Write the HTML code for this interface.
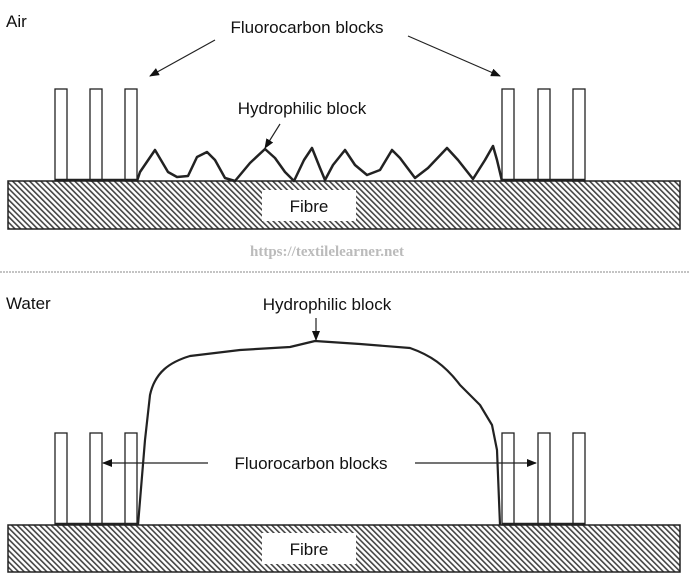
<!DOCTYPE html>
<html><head><style>body{margin:0;background:#fff}svg{display:block}</style></head><body>
<svg width="690" height="580" viewBox="0 0 690 580" xmlns="http://www.w3.org/2000/svg" font-family="Liberation Sans, sans-serif">
<defs>
<pattern id="h" width="4" height="4" patternUnits="userSpaceOnUse" patternTransform="rotate(-45)">
<rect width="4" height="4" fill="#fff"/><rect width="1.6" height="4" fill="#444"/></pattern>
<marker id="a" markerWidth="10" markerHeight="8" refX="9" refY="4" orient="auto" markerUnits="userSpaceOnUse"><path d="M0,0L10,4L0,8z" fill="#111"/></marker>
</defs>
<g stroke="#222" fill="none">
<rect x="8" y="181" width="672" height="48" fill="url(#h)" stroke="#222" stroke-width="1.5"/>
<rect x="262" y="190" width="94" height="31" fill="#fff" stroke="none"/>
<g fill="#fff" stroke-width="1.3">
<rect x="55" y="89" width="12" height="92"/><rect x="90" y="89" width="12" height="92"/><rect x="125" y="89" width="12" height="92"/>
<rect x="502" y="89" width="12" height="92"/><rect x="538" y="89" width="12" height="92"/><rect x="573" y="89" width="12" height="92"/>
</g>
<line x1="55" y1="180" x2="137" y2="180" stroke-width="2.5"/>
<line x1="502" y1="180" x2="585" y2="180" stroke-width="2.5"/>
<path d="M137,181 L140,172 L155,150 L168,172 L177,177 L188,176 L197,157 L207,152 L215,160 L225,178 L235,181 L250,163 L265,149 L275,158 L285,172 L294,181 L304,160 L312,148 L320,168 L325,180 L333,165 L345,150 L355,165 L367,175 L380,170 L392,150 L400,158 L415,178 L428,168 L447,148 L458,160 L473,179 L485,160 L493,146 L497,160 L502,181" stroke-width="2.5" stroke-linejoin="round"/>
<line x1="215" y1="40" x2="150" y2="76" stroke-width="1.2" marker-end="url(#a)"/>
<line x1="408" y1="36" x2="500" y2="76" stroke-width="1.2" marker-end="url(#a)"/>
<line x1="280" y1="124" x2="265" y2="148" stroke-width="1.2" marker-end="url(#a)"/>
<line x1="0" y1="272" x2="690" y2="272" stroke="#888" stroke-dasharray="2,1"/>
<rect x="8" y="525" width="672" height="47" fill="url(#h)" stroke="#222" stroke-width="1.5"/>
<rect x="262" y="533" width="94" height="31" fill="#fff" stroke="none"/>
<g fill="#fff" stroke-width="1.3">
<rect x="55" y="433" width="12" height="92"/><rect x="90" y="433" width="12" height="92"/><rect x="125" y="433" width="12" height="92"/>
<rect x="502" y="433" width="12" height="92"/><rect x="538" y="433" width="12" height="92"/><rect x="573" y="433" width="12" height="92"/>
</g>
<line x1="55" y1="524" x2="137" y2="524" stroke-width="2.5"/>
<line x1="502" y1="524" x2="585" y2="524" stroke-width="2.5"/>
<path d="M138,525 L145,440 L150,395 C155,372 170,362 190,356 L240,350 L290,347 L315,341 L360,344 L410,348 C430,355 445,365 460,385 L480,405 L492,425 L497,450 L500,525" stroke-width="2.2" stroke-linejoin="round"/>
<line x1="316" y1="318" x2="316" y2="340" stroke-width="1.2" marker-end="url(#a)"/>
<line x1="208" y1="463" x2="103" y2="463" stroke-width="1.2" marker-end="url(#a)"/>
<line x1="415" y1="463" x2="536" y2="463" stroke-width="1.2" marker-end="url(#a)"/>
</g>
<g fill="#111" font-size="17">
<text x="6" y="27">Air</text>
<text x="307" y="33" text-anchor="middle">Fluorocarbon blocks</text>
<text x="302" y="114" text-anchor="middle">Hydrophilic block</text>
<text x="309" y="212" text-anchor="middle">Fibre</text>
<text x="6" y="309">Water</text>
<text x="327" y="310" text-anchor="middle">Hydrophilic block</text>
<text x="311" y="469" text-anchor="middle">Fluorocarbon blocks</text>
<text x="309" y="555" text-anchor="middle">Fibre</text>
</g>
<text x="327" y="256" text-anchor="middle" font-family="Liberation Serif, serif" font-weight="bold" font-size="15" fill="#bbb">https://textilelearner.net</text>
</svg>
</body></html>
